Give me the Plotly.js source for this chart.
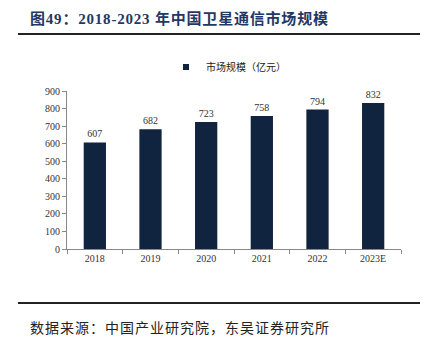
<!DOCTYPE html>
<html>
<head>
<meta charset="utf-8">
<script src="https://cdn.plot.ly/plotly-3.0.1.min.js"></script>
<style>
html,body{margin:0;padding:0;background:#fff;}
#chart{width:426px;height:342px;}
</style>
</head>
<body>
<div id="chart"></div>
<script>
const categories = ["2018", "2019", "2020", "2021", "2022", "2023E"];
const marketSize = [607, 682, 723, 758, 794, 832];
const seriesName = "市场规模（亿元）";
const titleText = "图49：2018-2023 年中国卫星通信市场规模";
const sourceText = "数据来源：中国产业研究院，东吴证券研究所";

const serif = "'Liberation Serif','Times New Roman','Noto Sans CJK SC',serif";
const cjk = "'Noto Sans CJK SC','Noto Sans',sans-serif";
const barColor = "#10233f";

const L = 67, R = 401, T = 91, B = 249, W = 426, H = 342;
const px = x => (x - L) / (R - L);
const py = y => (B - y) / (B - T);

const bars = {
  type: "bar",
  x: categories,
  y: marketSize,
  name: seriesName,
  showlegend: false,
  marker: {color: barColor},
  width: 0.4,
  text: marketSize.map(String),
  textposition: "outside",
  cliponaxis: false,
  textfont: {family: serif, size: 10, color: "#333"}
};
const legendKey = {
  type: "scatter",
  mode: "markers",
  x: [categories[0]],
  y: [null],
  name: seriesName,
  marker: {symbol: "square", size: 6, color: barColor}
};

const layout = {
  width: W, height: H,
  margin: {l: L, r: W - R, t: T, b: H - B, pad: 0},
  paper_bgcolor: "#fff",
  plot_bgcolor: "#fff",
  showlegend: true,
  legend: {
    orientation: "h", x: px(166), xanchor: "left", y: py(67), yanchor: "middle",
    font: {family: cjk, size: 10, color: "#222"},
    itemwidth: 30
  },
  xaxis: {
    type: "category",
    showline: true, linecolor: "#888", linewidth: 1,
    ticks: "outside", ticklen: 4, tickcolor: "#888",
    tickson: "boundaries",
    tickfont: {family: serif, size: 10, color: "#333"},
    showgrid: false, zeroline: false, fixedrange: true
  },
  yaxis: {
    range: [0, 900], dtick: 100,
    showline: true, linecolor: "#888", linewidth: 1,
    ticks: "outside", ticklen: 4, tickcolor: "#888",
    tickfont: {family: serif, size: 10, color: "#333"},
    showgrid: false, zeroline: false, fixedrange: true
  },
  bargap: 0.6,
  shapes: [
    {type: "line", xref: "paper", yref: "paper", x0: px(18), x1: px(420), y0: py(34), y1: py(34), line: {color: "#222", width: 2}},
    {type: "line", xref: "paper", yref: "paper", x0: px(18), x1: px(420), y0: py(303), y1: py(303), line: {color: "#222", width: 2}}
  ],
  annotations: [
    {text: "<b>" + titleText + "</b>", xref: "paper", yref: "paper", x: px(28), y: py(18), xanchor: "left", yanchor: "middle", showarrow: false, font: {family: serif, size: 15, color: "#1f3864"}},
    {text: sourceText, xref: "paper", yref: "paper", x: px(28), y: py(327), xanchor: "left", yanchor: "middle", showarrow: false, font: {family: cjk, size: 14, color: "#222"}}
  ]
};

Plotly.newPlot("chart", [bars, legendKey], layout, {displayModeBar: false, staticPlot: true}).then(() => {
  const texts = document.querySelectorAll(".annotation-text");
  const spacing = ["0.8px", "1px"];
  texts.forEach((el, i) => {
    if (i > 1) return;
    const before = el.getBBox();
    el.style.letterSpacing = spacing[i];
    const after = el.getBBox();
    const dx = before.x - after.x;
    const x0 = parseFloat(el.getAttribute("x") || "0");
    el.setAttribute("x", x0 + dx);
  });
});
</script>
</body>
</html>
